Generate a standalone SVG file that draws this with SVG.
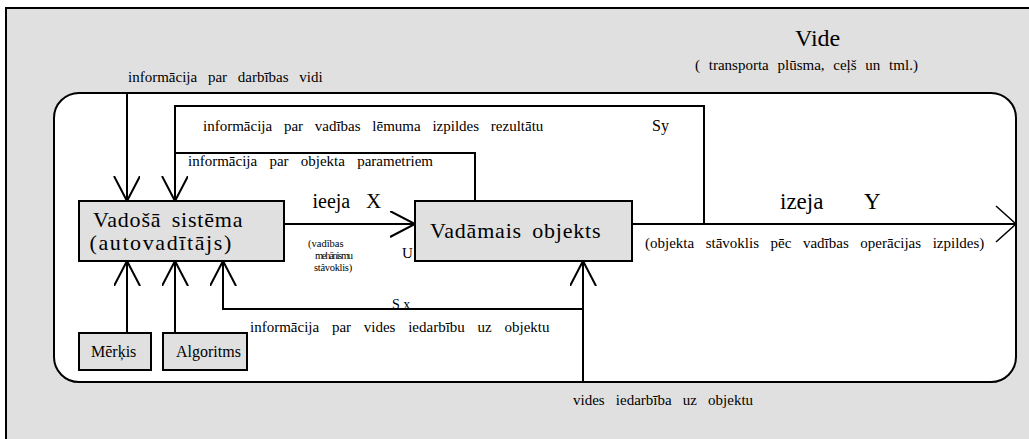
<svg xmlns="http://www.w3.org/2000/svg" width="1029" height="439" viewBox="0 0 1029 439" font-family="Liberation Serif">
<defs>
<marker id="ah" markerWidth="30" markerHeight="30" refX="25" refY="13" orient="auto" markerUnits="userSpaceOnUse">
<path d="M0,0 L25,13 L0,26" fill="none" stroke="#000" stroke-width="2"/>
</marker>
<marker id="ahb" markerWidth="30" markerHeight="40" refX="21" refY="19" orient="auto" markerUnits="userSpaceOnUse">
<path d="M1,1 L21,19 L1,37" fill="none" stroke="#000" stroke-width="1.5"/>
</marker>
</defs>
<rect x="6" y="8" width="1030" height="440" fill="#e0e0e0" stroke="#000" stroke-width="2"/>
<g id="environment">
<rect x="54" y="93" width="962" height="289" rx="25" ry="25" fill="#fff" stroke="#000" stroke-width="2"/>
<text font-family="Liberation Serif" x="795" y="46" font-size="24">Vide</text>
<text font-family="Liberation Serif" x="695" y="70" font-size="15" word-spacing="5">( transporta plūsma, ceļš un tml.)</text>
</g>
<g id="connectors" fill="none" stroke="#000" stroke-width="2">
<path d="M127,93 V201" marker-end="url(#ah)"/>
<path d="M704,224 V106 H175 V201" marker-end="url(#ah)"/>
<path d="M475,201 V153 H175"/>
<path d="M284,224 H415" marker-end="url(#ah)"/>
<path d="M632,224 H1016" marker-end="url(#ahb)"/>
<path d="M127,333 V261" marker-end="url(#ah)"/>
<path d="M175,333 V261" marker-end="url(#ah)"/>
<path d="M583,309 H223 V261" marker-end="url(#ah)"/>
<path d="M583,382 V261" marker-end="url(#ah)"/>
</g>
<g id="connector-labels" fill="#000">
<text font-family="Liberation Serif" font-size="15" word-spacing="7" x="128" y="82">informācija par darbības vidi</text>
<text font-family="Liberation Serif" font-size="15" word-spacing="8" x="203" y="131">informācija par vadības lēmuma izpildes rezultātu</text>
<text font-family="Liberation Serif" font-size="16" x="652" y="131">Sy</text>
<text font-family="Liberation Serif" font-size="15" word-spacing="8.5" x="188" y="166">informācija par objekta parametriem</text>
<text font-family="Liberation Serif" font-size="20" x="312.5" y="208">ieeja<tspan x="366" font-size="21">X</tspan></text>
<text font-family="Liberation Serif" font-size="10.5" x="308" y="247">(vadības</text>
<text font-family="Liberation Serif" font-size="10.5" letter-spacing="-1.3" x="315" y="259">mehānismu</text>
<text font-family="Liberation Serif" font-size="10.5" letter-spacing="-0.3" x="314" y="271">stâvoklis)</text>
<text font-family="Liberation Serif" font-size="15" x="402" y="258">U</text>
<text font-family="Liberation Serif" font-size="23" x="780" y="209">izeja</text>
<text font-family="Liberation Serif" font-size="23" x="864" y="209">Y</text>
<text font-family="Liberation Serif" font-size="15" word-spacing="7.8" x="645" y="248">(objekta stāvoklis pēc vadības operācijas izpildes)</text>
<text font-family="Liberation Serif" font-size="14" x="392" y="309">S x</text>
<text font-family="Liberation Serif" font-size="15" word-spacing="9" x="250" y="332">informācija par vides iedarbību uz objektu</text>
<text font-family="Liberation Serif" font-size="15" word-spacing="7.4" x="573" y="405">vides iedarbība uz objektu</text>
</g>
<g id="vadosa">
<rect x="79" y="201" width="205" height="60" fill="#e0e0e0" stroke="#000" stroke-width="2"/>
<text font-family="Liberation Serif" font-size="22" letter-spacing="0.8" word-spacing="4" x="93" y="227">Vadošā sistēma</text>
<text font-family="Liberation Serif" font-size="22" letter-spacing="1.6" x="89.5" y="250">(autovadītājs)</text>
</g>
<g id="vadamais">
<rect x="415" y="201" width="217" height="60" fill="#e0e0e0" stroke="#000" stroke-width="2"/>
<text font-family="Liberation Serif" font-size="22" letter-spacing="0.8" word-spacing="4" x="430" y="238">Vadāmais objekts</text>
</g>
<g id="merkis">
<rect x="79" y="333" width="72" height="37" fill="#e0e0e0" stroke="#000" stroke-width="2"/>
<text font-family="Liberation Serif" font-size="16" x="91" y="357">Mērķis</text>
</g>
<g id="algoritms">
<rect x="163" y="333" width="84" height="37" fill="#e0e0e0" stroke="#000" stroke-width="2"/>
<text font-family="Liberation Serif" font-size="16" x="176" y="357">Algoritms</text>
</g>
</svg>
